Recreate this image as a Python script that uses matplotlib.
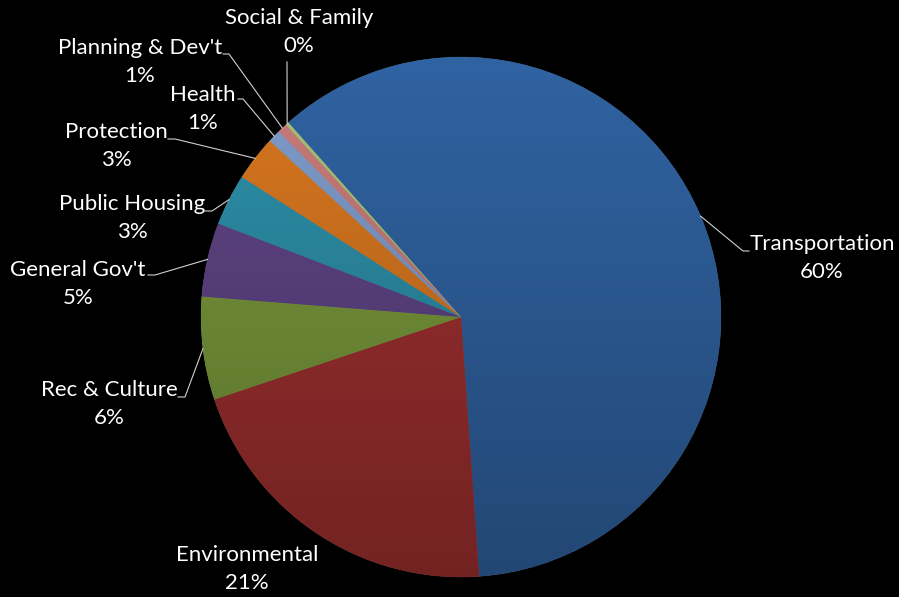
import numpy as np
import matplotlib.pyplot as plt
from matplotlib.colors import to_rgb

# budget share by department
categories = ['Transportation', 'Environmental', 'Rec & Culture', "General Gov't",
              'Public Housing', 'Protection', 'Health', "Planning & Dev't", 'Social & Family']
shares = [60.5, 21.0, 6.4, 4.6, 3.2, 2.8, 0.8, 0.6, 0.2]

colors = ['#3063a2', '#a03030', '#7a9a3c', '#604587', '#2d91aa',
          '#da7820', '#809ecd', '#cb7d7c', '#a8c47c']

# label block centres and leader elbows, in pixels of the 899x597 picture
label_px = [(822, 258), (247, 569), (109, 404), (78, 284), (132, 218),
            (116, 146), (203, 109), (140, 62), (299, 32)]
leader_px = [[(749, 251), (743, 251)], None, [(178, 397), (185, 397)],
             [(148, 275), (155, 275)], [(205, 211), (212, 211)],
             [(168, 139), (175, 139)], [(238, 99), (243, 99)],
             [(223, 54), (229, 54)], [(287, 62)]]

W, H = 899, 597
CX, CY, R = 461, 317, 260


def px(p):
    return ((p[0] - CX) / R, (CY - p[1]) / R)


plt.rcParams['font.family'] = ['Lato', 'DejaVu Sans']

fig = plt.figure(figsize=(W / 100, H / 100), dpi=100, facecolor='black')
ax = fig.add_axes([0, 0, 1, 1])
ax.set_facecolor('black')

wedges, _ = ax.pie(shares, colors=colors, startangle=131.6, counterclock=False,
                   radius=1.0, wedgeprops=dict(linewidth=0.6, edgecolor=(1, 1, 1, 0.12)))

ax.set_aspect('equal')
ax.axis('off')

# vertical shading like the office chart style
ys = np.linspace(1, 0, 256)[:, None]
for w, c in zip(wedges, colors):
    base = np.array(to_rgb(c))
    shade = 0.72 + 0.28 * ys
    img = np.clip(base[None, None, :] * shade[:, :, None], 0, 1)
    img = np.repeat(img, 2, axis=1)
    im = ax.imshow(img, extent=(-1, 1, -1, 1), aspect='auto', zorder=1.5, interpolation='bilinear')
    im.set_clip_path(w)

ax.set_xlim(-CX / R, (W - CX) / R)
ax.set_ylim((CY - H) / R, CY / R)

total = sum(shares)
for i, (name, val) in enumerate(zip(categories, shares)):
    w = wedges[i]
    mid = np.deg2rad((w.theta1 + w.theta2) / 2)
    anchor = (np.cos(mid), np.sin(mid))
    lx, ly = px(label_px[i])
    ax.text(lx, ly, f'{name}\n{round(val / total * 100):.0f}%', color='white',
            ha='center', va='center', fontsize=16, linespacing=1.5, zorder=5)
    if leader_px[i] is not None:
        pts = [px(p) for p in leader_px[i]] + [anchor]
        ax.plot([p[0] for p in pts], [p[1] for p in pts], color='#d0d0d0', lw=0.8, zorder=4)

fig.savefig('out.png', dpi=100, facecolor='black')
